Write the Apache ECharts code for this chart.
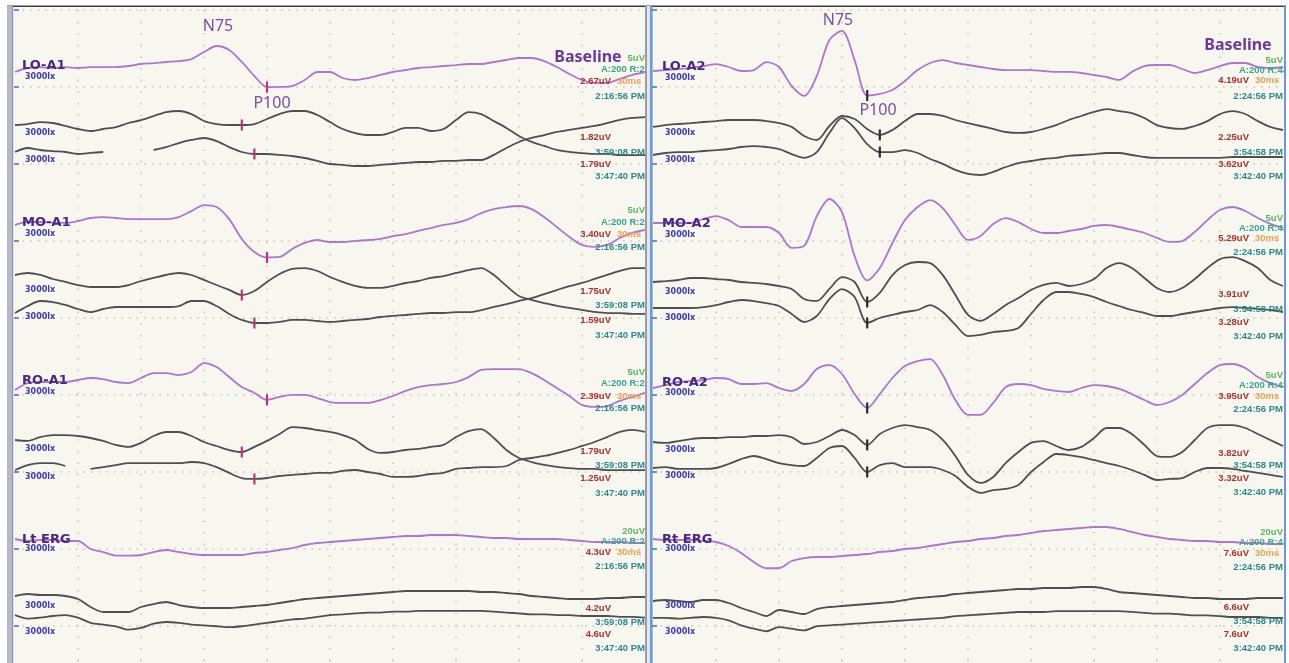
<!DOCTYPE html>
<html>
<head>
<meta charset="utf-8">
<script src="https://cdn.jsdelivr.net/npm/echarts@6/dist/echarts.min.js"></script>
<style>
html,body{margin:0;padding:0;background:#ffffff;}
#chart{width:1289px;height:663px;}
</style>
</head>
<body>
<div id="chart"></div>
<script>
// Sample latencies of every sweep (ms): 6 ms apart over a 300 ms window
const latencyMs = [0,6,12,18,24,30,36,42,48,54,60,66,72,78,84,90,96,102,108,114,120,126,132,138,144,150,156,162,168,174,180,186,192,198,204,210,216,222,228,234,240,246,252,258,264,270,276,282,288,294,300];

// ---- Left eye (A1 reference); values in uV, negative = upward deflection ----
const loA1Base = [0.13,-0.13,-0.19,-0.13,-0.19,-0.13,-0.19,-0.19,-0.19,-0.26,
  -0.39,-0.45,-0.52,-0.58,-0.71,-1.17,-1.56,-1.30,-0.52,0.39,
  1.11,1.10,1.04,0.65,0.13,0.13,0.52,0.65,0.52,0.32,
  0.13,0,-0.13,-0.19,-0.26,-0.32,-0.39,-0.39,-0.52,-0.65,
  -0.78,-0.78,-0.58,-0.19,0.26,0.65,0.84,0.84,0.58,0.32,
  0.13];
const loA1Run1 = [0,-0.06,-0.19,-0.13,0.06,0.26,0.39,0.26,0.13,-0.13,
  -0.32,-0.58,-0.84,-0.91,-0.71,-0.26,-0.06,0,0,-0.06,
  -0.39,-0.71,-0.91,-0.91,-0.65,-0.19,0.26,0.52,0.65,0.65,
  0.45,0.19,0.19,0.39,0.26,-0.32,-0.84,-0.71,-0.26,0.19,
  0.71,1.10,1.36,1.62,1.75,1.82,1.88,1.88,1.95,1.95,
  1.95];
const loA1Run2 = [0,-0.26,-0.13,-0.06,0,0.13,0.06,0,null,0,
  null,-0.13,-0.32,-0.58,-0.78,-0.91,-0.71,-0.32,0,0.13,
  0.13,0.19,0.26,0.39,0.58,0.78,0.84,0.91,0.91,0.84,
  0.78,0.71,0.65,0.65,0.58,0.58,0.52,0.52,0.19,-0.26,
  -0.65,-0.91,-1.10,-1.30,-1.43,-1.56,-1.69,-1.88,-2.08,-2.21,
  -2.27];
const moA1Base = [0.19,0,0,0.06,0.06,-0.06,-0.26,-0.32,-0.26,-0.19,
  -0.19,-0.19,-0.19,-0.32,-0.71,-1.10,-0.97,-0.19,1.10,1.95,
  2.30,2.27,1.75,1.36,1.17,1.30,1.30,1.23,1.17,1.10,
  0.91,0.78,0.58,0.39,0.19,0.06,-0.19,-0.58,-0.84,-0.97,
  -1.04,-0.84,-0.32,0.32,0.97,1.49,1.62,1.49,1.04,0.71,
  0.52];
const moA1Run1 = [-0.13,-0.26,-0.13,0.13,0.32,0.52,0.65,0.65,0.65,0.52,
  0.26,0.06,-0.13,-0.26,-0.13,0.19,0.52,0.84,1.17,0.91,
  0.32,-0.19,-0.52,-0.58,-0.39,0,0.32,0.58,0.71,0.71,
  0.58,0.39,0.26,0.06,-0.06,-0.26,-0.45,-0.58,-0.13,0.58,
  1.23,1.49,1.69,1.88,2.01,2.14,2.27,2.34,2.34,2.40,
  2.40];
const moA1Run2 = [0,-0.45,-0.78,-0.71,-0.52,-0.26,-0.06,-0.26,-0.39,-0.39,
  -0.39,-0.39,-0.39,-0.45,-0.78,-0.78,-0.45,0.06,0.45,0.65,
  0.65,0.58,0.45,0.45,0.52,0.58,0.52,0.45,0.39,0.26,
  0.19,0.13,0.06,0,0,-0.06,-0.06,-0.19,-0.39,-0.58,
  -0.78,-0.97,-1.23,-1.49,-1.75,-1.95,-2.21,-2.47,-2.73,-2.92,
  -2.92];
const roA1Base = [0.13,-0.32,-0.39,-0.39,-0.39,-0.52,-0.65,-0.58,-0.39,-0.32,
  -0.65,-0.97,-0.97,-0.84,-1.04,-1.62,-1.36,-0.71,-0.06,0.32,
  0.77,0.58,0.45,0.45,0.65,0.91,0.97,0.97,0.97,0.78,
  0.52,0.19,-0.06,-0.19,-0.26,-0.39,-0.71,-1.17,-1.23,-1.23,
  -1.23,-0.97,-0.52,0,0.52,1.10,1.23,1.17,0.84,0.58,
  0.32];
const roA1Run1 = [0,0.06,-0.19,-0.32,-0.32,-0.26,-0.13,0.06,0.32,0.45,
  0.19,-0.26,-0.52,-0.52,-0.26,0.13,0.39,0.65,0.78,0.45,
  0.06,-0.39,-0.84,-0.78,-0.65,-0.52,-0.32,0,0.58,0.84,
  0.78,0.65,0.58,0.45,0.32,-0.19,-0.58,-0.71,-0.13,0.65,
  1.17,1.43,1.62,1.75,1.82,1.88,1.88,1.95,1.95,1.95,
  1.95];
const roA1Run2 = [0.13,-0.19,-0.32,-0.32,-0.13,null,0.06,-0.06,-0.19,-0.32,
  -0.32,-0.32,-0.32,-0.32,-0.39,-0.32,-0.06,0.32,0.65,0.71,
  0.65,0.52,0.45,0.39,0.32,0.32,0.19,0.13,0.26,0.39,
  0.58,0.58,0.52,0.39,0.32,0.06,0,-0.06,-0.06,-0.13,
  -0.52,-0.65,-0.78,-0.97,-1.17,-1.43,-1.69,-2.01,-2.34,-2.47,
  -2.34];
const ltErgBase = [0,0.52,0.26,0.26,0.52,0.52,2.6,3.38,4.3,4.3,
  4.16,3.38,2.86,3.38,3.9,4.16,4.16,4.16,4.16,3.64,
  3.38,2.86,2.34,1.56,1.04,0.78,0.52,0.26,0,-0.26,
  -0.52,-0.78,-0.78,-1.04,-1.04,-1.04,-0.78,-0.52,-0.26,-0.26,
  0,0,0,0,0.26,0.52,0.78,0.78,0.78,1.04,
  1.04];
const ltErgRun1 = [0,-0.52,-0.26,-0.26,0,0.78,2.86,4.16,4.16,4.16,
  2.86,2.08,1.56,2.34,2.86,3.12,3.12,3.12,2.86,2.6,
  2.34,1.82,1.3,0.78,0.52,0.26,0,-0.26,-0.52,-0.78,
  -1.04,-1.3,-1.3,-1.3,-1.3,-1.3,-1.3,-1.04,-1.04,-0.78,
  -0.52,0,0.26,0.52,0.78,0.78,0.78,0.52,0.52,0.26,
  0.26];
const ltErgRun2 = [-0.26,0.78,0.52,0,-0.26,0.52,2.08,2.6,3.12,4.16,
  3.64,2.34,1.82,2.08,2.6,2.86,3.12,3.38,3.12,2.6,
  2.08,1.56,1.04,0.78,0.26,-0.26,-0.52,-0.78,-1.04,-1.04,
  -1.3,-1.3,-1.56,-1.56,-1.56,-1.56,-1.56,-1.56,-1.3,-1.04,
  -0.78,-0.52,-0.52,-0.26,-0.26,0,0,0,0.26,0.26,
  0.52];

// ---- Right eye (A2 reference) ----
const loA2Base = [0,-0.06,-0.13,-0.19,-0.32,-0.45,-0.26,0,-0.06,-0.58,
  -0.26,0.97,1.62,0.32,-2.01,-2.60,-0.71,1.59,1.49,1.23,
  0.65,-0.06,-0.52,-0.71,-0.52,-0.39,-0.26,-0.13,-0.06,-0.06,
  -0.06,0,0.06,0.06,0.13,0.26,0.39,0.58,0.06,-0.32,
  -0.39,-0.39,-0.13,0.13,-0.06,-0.32,-0.52,-0.52,-0.26,-0.19,
  -0.26];
const loA2Run1 = [0.06,-0.06,-0.13,-0.19,-0.26,-0.32,-0.39,-0.39,-0.39,-0.32,
  -0.19,0.06,0.65,0.91,0,-0.65,-0.45,0.19,0.58,0.26,
  -0.32,-0.78,-0.78,-0.65,-0.39,-0.19,0,0.19,0.39,0.45,
  0.39,0.19,-0.06,-0.39,-0.65,-0.91,-1.10,-0.97,-0.84,-0.52,
  -0.06,0.13,0.19,0,-0.32,-0.78,-0.97,-0.78,-0.32,0.06,
  0.26];
const loA2Run2 = [0,-0.13,-0.19,-0.19,-0.26,-0.32,-0.39,-0.52,-0.58,-0.52,
  -0.39,-0.06,0.19,-0.19,-1.43,-2.40,-1.75,-0.71,-0.19,-0.19,
  -0.32,-0.13,0.26,0.58,0.97,1.23,1.30,1.10,0.78,0.52,
  0.39,0.26,0.19,0.06,0,-0.06,-0.13,-0.13,0,0.13,
  0.19,0.19,0.19,0.19,0.19,0.19,0.13,0.13,0.13,0.13,
  0.13];
const moA2Base = [0,0,0,0,-0.26,-0.45,-0.19,0.26,0.26,0.26,
  0.65,1.62,1.49,-0.45,-1.56,-0.71,2.14,3.73,2.92,1.30,
  -0.19,-1.04,-1.49,-0.97,0.13,1.10,0.84,0.06,-0.32,-0.06,
  0.39,0.65,0.65,0.52,0.39,0.19,0.13,0.26,0.45,0.65,
  0.97,1.23,1.17,0.58,-0.19,-0.84,-1.04,-0.78,-0.32,0.06,
  0.32];
const moA2Run1 = [0,-0.06,-0.13,-0.26,-0.26,-0.19,-0.13,0,0.06,0.13,
  0.26,0.45,1.10,1.23,0.45,-0.32,0,1.30,0.71,-0.45,
  -1.10,-1.30,-1.23,-0.45,0.84,2.14,2.53,2.08,1.49,1.04,
  0.52,0.19,0.06,0.26,0.13,-0.19,-0.91,-1.23,-0.91,-0.26,
  0.39,0.65,0.39,-0.19,-0.91,-1.49,-1.62,-1.36,-0.91,-0.13,
  0.26];
const moA2Run2 = [0,0,0,0,-0.06,-0.19,-0.39,-0.52,-0.45,-0.32,
  -0.13,0.39,0.91,0.52,-0.58,-1.23,-0.71,0.97,0.65,0.45,
  0.26,0.13,-0.19,0.26,1.10,1.82,1.75,1.56,1.49,1.30,
  0.39,-0.52,-1.04,-1.04,-0.91,-0.71,-0.39,-0.13,0.13,0.32,
  0.52,0.52,0.39,0.26,0.13,0,-0.06,0,0.06,0.13,
  0.26];
const roA2Base = [0,-0.19,-0.39,-0.45,-0.52,-0.65,-0.58,-0.26,-0.26,-0.32,
  0,0.19,-0.26,-1.23,-1.49,-0.91,0.39,1.30,0.39,-0.65,
  -1.43,-1.75,-1.88,-0.84,0.78,1.75,1.75,0.97,-0.06,-0.26,
  -0.19,0.06,0.19,0.26,0,-0.19,-0.13,0.06,0.39,0.78,
  1.10,0.91,0.45,-0.26,-0.97,-1.49,-1.56,-1.30,-0.71,-0.32,
  -0.06];
const roA2Run1 = [0,0.06,-0.06,-0.19,-0.26,-0.26,-0.32,-0.32,-0.39,-0.39,
  -0.45,-0.32,0.13,0,-0.39,-0.78,-0.45,0.19,-0.52,-0.91,
  -1.10,-0.97,-0.78,-0.13,0.91,2.14,2.66,2.27,1.36,0.65,
  0.06,-0.06,0.26,0.52,0.32,-0.26,-0.91,-0.91,-0.52,0.19,
  0.91,0.97,0.65,-0.13,-0.91,-1.10,-1.10,-0.91,-0.52,-0.13,
  0.26];
const roA2Run2 = [0,-0.06,0.06,0.06,0.06,0,-0.26,-0.58,-0.78,-0.58,
  -0.32,-0.19,-0.13,-0.65,-1.30,-1.43,-0.65,0.26,-0.19,-0.32,
  -0.06,-0.06,-0.06,0.13,0.52,1.23,1.62,1.43,1.36,1.10,
  0.26,-0.39,-0.91,-0.84,-0.71,-0.52,-0.32,-0.13,0.13,0.45,
  0.78,0.71,0.65,0.26,0,0,0.06,0.19,0.32,0.45,
  0.58];
const rtErgBase = [0,0.26,0.26,0.26,0.52,0.78,1.82,3.64,5.98,7.6,
  7.6,5.72,4.94,4.68,4.68,4.42,4.16,3.9,3.38,3.12,
  2.6,2.34,1.82,1.3,0.78,0.52,0,-0.26,-0.78,-1.04,
  -1.56,-2.08,-2.34,-2.6,-2.86,-3.12,-3.12,-2.6,-1.82,-1.04,
  -0.52,0,0.26,0.52,0.52,0.78,0.78,1.04,1.04,1.3,
  1.3];
const rtErgRun1 = [0.26,0,0.26,0.52,0,0,0.78,2.08,3.12,4.16,
  2.6,3.12,3.64,2.34,1.82,1.56,1.3,1.04,0.78,0.52,
  0,-0.52,-0.78,-1.04,-1.56,-1.82,-2.08,-2.34,-2.6,-2.86,
  -2.86,-3.12,-3.12,-3.12,-3.38,-3.38,-2.86,-2.08,-1.82,-1.56,
  -1.3,-1.04,-0.78,-0.52,-0.52,-0.26,-0.26,-0.26,-0.52,-0.52,
  -0.52];
const rtErgRun2 = [0.26,0.26,0.52,0.26,0,0.26,1.04,2.6,3.64,4.42,
  3.12,3.64,4.16,2.86,2.6,2.34,2.08,1.82,1.56,1.3,
  1.04,0.78,0.52,0.26,-0.26,-0.52,-0.78,-1.04,-1.3,-1.56,
  -1.56,-1.56,-1.82,-1.82,-1.82,-1.82,-1.82,-1.82,-1.56,-1.3,
  -1.04,-1.04,-0.78,-0.52,-0.52,-0.26,0,0,0,0.26,
  0.26];

// ---- Channel texts ----
const leftChannels = ['LO-A1', 'MO-A1', 'RO-A1', 'Lt ERG'];
const rightChannels = ['LO-A2', 'MO-A2', 'RO-A2', 'Rt ERG'];
const leftRecordTimes = ['2:16:56 PM', '3:59:08 PM', '3:47:40 PM'];
const rightRecordTimes = ['2:24:56 PM', '3:54:58 PM', '3:42:40 PM'];
const leftAmplitudes = [[2.67, 1.82, 1.79], [3.40, 1.75, 1.59], [2.39, 1.79, 1.25], [4.3, 4.2, 4.6]];
const rightAmplitudes = [[4.19, 2.25, 3.62], [5.29, 3.91, 3.28], [3.95, 3.82, 3.32], [7.6, 6.6, 7.6]];
const sensitivityUV = [5, 5, 5, 20];          // uV per vertical division
const leftAvgLabel = 'A:200 R:29';
const rightAvgLabel = 'A:200 R:43';
const sweepLabel = '30ms';
const flashLabel = '3000lx';
// sample index of the P100 cursor on each VEP trace [baseline, run 1, run 2]
const leftP100Index = [[20, 18, 19], [20, 18, 19], [20, 18, 19]];
const rightP100Index = [[17, 18, 18], [17, 17, 17], [17, 17, 17]];

const leftTraces = [[loA1Base, loA1Run1, loA1Run2], [moA1Base, moA1Run1, moA1Run2], [roA1Base, roA1Run1, roA1Run2], [ltErgBase, ltErgRun1, ltErgRun2]];
const rightTraces = [[loA2Base, loA2Run1, loA2Run2], [moA2Base, moA2Run1, moA2Run2], [roA2Base, roA2Run1, roA2Run2], [rtErgBase, rtErgRun1, rtErgRun2]];

// ---- Layout (pixels) ----
const PANEL_W = 630;
const DIV_PX = 77;
const HALF = 55;
const panels = [
  { x0: 15, channels: leftChannels, traces: leftTraces, times: leftRecordTimes, amps: leftAmplitudes,
    avg: leftAvgLabel, p100: leftP100Index, markColor: '#c3307c',
    baselines: [[70, 125, 152], [222, 277, 313], [388, 440, 468], [539, 596, 624]],
    rows: [[58, 69, 81, 96, 137, 152, 164, 176], [210, 222, 234, 247, 291, 305, 320, 335],
           [372, 383, 396, 408, 451, 465, 478, 493], [531, 541, 552, 566, 608, 622, 634, 648]],
    nameX: 22, nameY: [66, 223, 381, 540],
    flashX: 25, flashY: [[77, 133, 160], [234, 290, 317], [392, 449, 477], [549, 606, 632]] },
  { x0: 653, channels: rightChannels, traces: rightTraces, times: rightRecordTimes, amps: rightAmplitudes,
    avg: rightAvgLabel, p100: rightP100Index, markColor: '#2b2b2b',
    baselines: [[71, 126, 155], [223, 282, 308], [388, 442, 468], [539, 600, 626]],
    rows: [[60, 70, 80, 96, 137, 152, 164, 176], [218, 228, 238, 252, 294, 309, 322, 336],
           [375, 385, 396, 409, 453, 465, 478, 492], [532, 542, 553, 567, 607, 621, 634, 648]],
    nameX: 662, nameY: [67, 224, 383, 540],
    flashX: 665, flashY: [[78, 133, 160], [235, 292, 318], [393, 450, 476], [549, 606, 632]] }
];

const C = {
  purple: '#ad74d4', gray: '#4f4f4f', grid: '#c6c6bd',
  name: '#4a2784', flash: '#3b3bb5', unit: '#59b85c', avg: '#35a58c',
  amp: '#ae2f2c', sweep: '#f0a050', time: '#2a8a8a', note: '#7b4ba6', baseline: '#6a38a0'
};
const smallFont = 'bold 9.5px "Liberation Sans", Arial, sans-serif';

const grids = [], xAxes = [], yAxes = [], series = [], graphics = [];

function txt(x, y, text, fill, font, align) {
  return { type: 'text', x: x, y: y, z: 50, silent: true,
    style: { text: text, fill: fill, font: font, textAlign: align || 'left', textVerticalAlign: 'middle',
             align: align || 'left', verticalAlign: 'middle' } };
}
function rect(x, y, w, h, fill, z) {
  return { type: 'rect', z: z, silent: true, shape: { x: x, y: y, width: w, height: h }, style: { fill: fill } };
}

panels.forEach(function (pn) {
  const xR = pn.x0 + PANEL_W;

  // dotted graticule: 30 ms per column, one sensitivity step per row
  const gi = grids.length;
  grids.push({ left: pn.x0, top: 10, width: PANEL_W, height: 653, show: false });
  xAxes.push({ gridIndex: gi, type: 'value', min: 0, max: 300, interval: 30,
    axisLine: { show: false }, axisTick: { show: false }, axisLabel: { show: false },
    splitLine: { show: true, showMinLine: false, showMaxLine: false,
      lineStyle: { color: C.grid, width: 1.6, type: [1.6, 10] } } });
  yAxes.push({ gridIndex: gi, type: 'value', min: 0, max: 653 / DIV_PX * 5, interval: 5, inverse: true,
    axisLine: { show: false }, axisTick: { show: false }, axisLabel: { show: false },
    splitLine: { show: true, showMinLine: true, showMaxLine: false,
      lineStyle: { color: C.grid, width: 1.6, type: [1.6, 6] } } });
  for (let k = 0; k * DIV_PX <= 640; k++) {
    graphics.push({ type: 'line', z: 40, silent: true,
      shape: { x1: pn.x0 - 1, y1: 10 + k * DIV_PX, x2: pn.x0 + 4, y2: 10 + k * DIV_PX },
      style: { stroke: '#4a5cc8', lineWidth: 1.4 } });
  }

  pn.channels.forEach(function (ch, g) {
    const pxPerUV = DIV_PX / sensitivityUV[g];
    const digits = sensitivityUV[g] > 5 ? 1 : 2;
    const rows = pn.rows[g];

    pn.traces[g].forEach(function (arr, r) {
      const base = pn.baselines[g][r];
      const ti = grids.length;
      grids.push({ left: pn.x0, top: base - HALF, width: PANEL_W, height: 2 * HALF, show: false });
      xAxes.push({ gridIndex: ti, type: 'value', min: 0, max: 300, show: false });
      yAxes.push({ gridIndex: ti, type: 'value', min: -HALF / pxPerUV, max: HALF / pxPerUV, inverse: true, show: false });
      const s = {
        type: 'line', xAxisIndex: ti, yAxisIndex: ti, silent: true, clip: false,
        showSymbol: false, smooth: 0.3, connectNulls: false,
        z: r === 0 ? 4 : 3,
        lineStyle: { color: r === 0 ? C.purple : C.gray, width: 1.8 },
        emphasis: { disabled: true },
        data: latencyMs.map(function (t, i) { return [t, arr[i]]; })
      };
      if (g < 3) {
        const idx = pn.p100[g][r];
        s.markPoint = { symbol: 'rect', symbolSize: [2.2, 11], silent: true, animation: false,
          itemStyle: { color: pn.markColor }, label: { show: false },
          data: [{ coord: [latencyMs[idx], arr[idx]] }] };
      }
      series.push(s);
      graphics.push(txt(pn.flashX, pn.flashY[g][r], flashLabel, C.flash, 'bold 8px "DejaVu Sans", sans-serif'));
    });

    graphics.push(txt(pn.nameX, pn.nameY[g], ch, C.name, 'bold 13px "DejaVu Sans", sans-serif'));
    graphics.push(txt(xR, rows[0], sensitivityUV[g] + 'uV', C.unit, smallFont, 'right'));
    graphics.push(txt(xR - 44, rows[1], pn.avg, C.avg, smallFont));
    graphics.push(txt(xR - 34, rows[2], pn.amps[g][0].toFixed(digits) + 'uV', C.amp, smallFont, 'right'));
    graphics.push(txt(xR - 28, rows[2], sweepLabel, C.sweep, smallFont));
    graphics.push(txt(xR, rows[3], pn.times[0], C.time, smallFont, 'right'));
    graphics.push(txt(xR - 34, rows[4], pn.amps[g][1].toFixed(digits) + 'uV', C.amp, smallFont, 'right'));
    graphics.push(txt(xR, rows[5], pn.times[1], C.time, smallFont, 'right'));
    graphics.push(txt(xR - 34, rows[6], pn.amps[g][2].toFixed(digits) + 'uV', C.amp, smallFont, 'right'));
    graphics.push(txt(xR, rows[7], pn.times[2], C.time, smallFont, 'right'));
  });
});

// component annotations
const noteFont = '16px "Noto Sans", "Open Sans", sans-serif';
const baseFont = 'bold 16px "Noto Sans", "Open Sans", sans-serif';
graphics.push(txt(218, 26, 'N75', C.note, noteFont, 'center'));
graphics.push(txt(272, 103, 'P100', C.note, noteFont, 'center'));
graphics.push(txt(588, 57, 'Baseline', C.baseline, baseFont, 'center'));
graphics.push(txt(838, 20, 'N75', C.note, noteFont, 'center'));
graphics.push(txt(878, 110, 'P100', C.note, noteFont, 'center'));
graphics.push(txt(1238, 45, 'Baseline', C.baseline, baseFont, 'center'));

// window frame: top rule, left bar, centre divider, right edge
graphics.push(rect(0, 0, 1289, 6, '#ffffff', 90));
graphics.push(rect(0, 0, 7, 663, '#ffffff', 90));
graphics.push(rect(7, 5.5, 1282, 1.5, '#3c3c3c', 91));
graphics.push(rect(7, 6, 6, 657, '#b4b8c8', 91));
graphics.push(rect(12, 6, 1.2, 657, '#8d93aa', 92));
graphics.push(rect(645, 6, 2, 657, '#9a9cab', 91));
graphics.push(rect(647, 6, 3, 657, '#e2e6ef', 91));
graphics.push(rect(650, 6, 2.6, 657, '#6b99d0', 91));
graphics.push(rect(1284, 6, 2, 657, '#6b99d0', 91));
graphics.push(rect(1286, 0, 3, 663, '#ffffff', 91));

const chart = echarts.init(document.getElementById('chart'), null, { renderer: 'canvas' });
chart.setOption({
  animation: false,
  backgroundColor: '#f8f7ef',
  grid: grids,
  xAxis: xAxes,
  yAxis: yAxes,
  series: series,
  graphic: { elements: graphics }
});
</script>
</body>
</html>
